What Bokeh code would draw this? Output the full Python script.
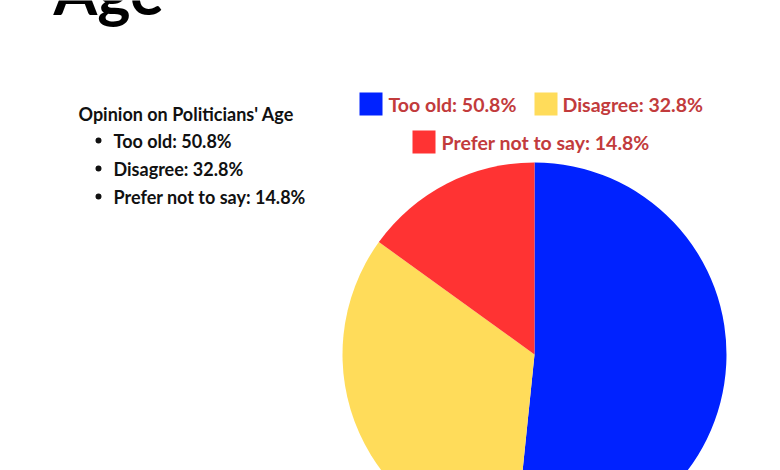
import numpy as np
from bokeh.plotting import figure
from bokeh.models import Range1d, ColumnDataSource
from bokeh.core.properties import value
from bokeh.embed import file_html
from bokeh.resources import INLINE

# ---- data ----
categories = ["Too old", "Disagree", "Prefer not to say"]
percents = [50.8, 32.8, 14.8]
colors = ["#0022ff", "#ffdc5a", "#ff3333"]
title_text = "Age"
list_title = "Opinion on Politicians' Age"

W, H = 780, 470
FONT = "Lato"

def Y(px):
    return H - px

p = figure(width=W, height=H, x_range=Range1d(0, W), y_range=Range1d(0, H),
           output_backend="svg", toolbar_location=None, min_border=0,
           x_axis_location=None, y_axis_location=None)
p.grid.visible = False
p.outline_line_color = None
p.background_fill_color = "white"
p.border_fill_color = "white"

# ---- pie ----
vals = np.array(percents, dtype=float)
frac = vals / vals.sum()
cum = np.cumsum(frac)
start = np.pi / 2 - 2 * np.pi * (cum - frac)
end = np.pi / 2 - 2 * np.pi * cum
src = ColumnDataSource(dict(start=start, end=end, color=colors))
p.wedge(x=534, y=Y(354), radius=192, start_angle="start", end_angle="end",
        direction="clock", fill_color="color", line_color=None, source=src)

# ---- legend (manual) ----
labels = [f"{c}: {v}%" for c, v in zip(categories, percents)]
sq_x = [370.5, 545.5, 423.5]
sq_y = [103.5, 103.5, 141.5]
tx_x = [388, 562, 441]
lsrc = ColumnDataSource(dict(x=sq_x, y=[Y(v) for v in sq_y], tx=tx_x,
                             label=labels, color=colors))
p.rect(x="x", y="y", width=23, height=23, fill_color="color", line_color=None, source=lsrc)
p.text(x="tx", y="y", text="label", source=lsrc, text_font=value(FONT),
       text_font_style="bold", text_font_size="19.5px", text_color="#c23b3c",
       text_baseline="middle", text_align="left")

# ---- left list ----
p.text(x=[78], y=[Y(113)], text=[list_title], text_font=value(FONT),
       text_font_style="bold", text_font_size="18px", text_color="#111111",
       text_baseline="middle")
list_y = [Y(140), Y(168), Y(196)]
p.scatter(x=[98] * 3, y=list_y, size=6, marker="circle", fill_color="#111111", line_color=None)
p.text(x=[113] * 3, y=list_y, text=labels, text_font=value(FONT),
       text_font_style="bold", text_font_size="18px", text_color="#111111",
       text_baseline="middle")

# ---- title (cut off at top, as in the reference) ----
p.text(x=[53], y=[Y(-10)], text=[title_text], text_font=value(FONT),
       text_font_style="bold", text_font_size="63px", text_color="#000000",
       text_baseline="alphabetic")

open("out.html", "w").write(file_html(p, INLINE))
